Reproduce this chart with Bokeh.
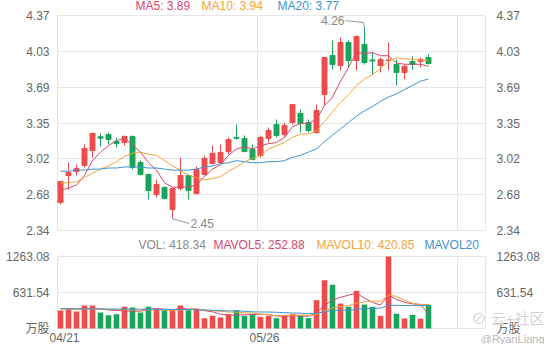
from bokeh.plotting import figure
from bokeh.models import ColumnDataSource, Range1d, Label
from bokeh.embed import file_html
from bokeh.resources import INLINE
from bokeh.core.properties import value

# ---------------- data ----------------
dates = ["04/21", "04/24", "04/25", "04/26", "04/27", "04/28", "05/01", "05/02", "05/03", "05/04",
         "05/05", "05/08", "05/09", "05/10", "05/11", "05/12", "05/15", "05/16", "05/17", "05/18",
         "05/19", "05/22", "05/23", "05/24", "05/25", "05/26", "05/30", "05/31", "06/01", "06/02",
         "06/05", "06/06", "06/07", "06/08", "06/09", "06/12", "06/13", "06/14", "06/15", "06/16",
         "06/19", "06/20", "06/21", "06/22", "06/23", "06/26", "06/27"]

open_ = [2.604, 2.859, 2.897, 2.954, 3.095, 3.225, 3.246, 3.180, 3.171, 3.228,
         2.982, 2.869, 2.680, 2.746, 2.538, 2.737, 2.859, 2.689, 2.869, 2.973,
         2.982, 3.086, 3.218, 3.209, 3.105, 3.048, 3.209, 3.341, 3.246, 3.360,
         3.445, 3.360, 3.265, 3.624, 3.992, 3.898, 4.115, 3.945, 4.096, 3.950,
         3.898, 3.945, 3.907, 3.832, 3.936, 3.936, 3.973]
high = [2.810, 2.982, 2.963, 3.152, 3.265, 3.256, 3.265, 3.218, 3.237, 3.237,
        3.001, 2.878, 2.821, 2.755, 2.746, 3.029, 2.869, 2.944, 3.048, 3.143,
        3.152, 3.218, 3.341, 3.237, 3.152, 3.237, 3.313, 3.388, 3.360, 3.530,
        3.483, 3.388, 3.530, 3.973, 4.134, 4.162, 4.134, 4.181, 4.260, 4.021,
        3.973, 4.115, 3.955, 3.907, 3.983, 3.973, 4.002]
low = [2.585, 2.727, 2.859, 2.935, 3.029, 3.133, 3.152, 3.124, 3.143, 2.916,
       2.859, 2.633, 2.652, 2.633, 2.450, 2.718, 2.633, 2.680, 2.859, 2.963,
       2.963, 3.058, 3.199, 3.077, 3.001, 3.029, 3.171, 3.218, 3.218, 3.341,
       3.265, 3.265, 3.256, 3.520, 3.860, 3.851, 3.879, 3.851, 3.907, 3.813,
       3.832, 3.851, 3.709, 3.766, 3.860, 3.879, 3.907]
close = [2.803, 2.888, 2.925, 3.114, 3.256, 3.212, 3.199, 3.161, 3.228, 2.935,
         2.869, 2.718, 2.774, 2.642, 2.737, 2.859, 2.718, 2.916, 3.020, 3.067,
         3.077, 3.199, 3.209, 3.086, 3.010, 3.218, 3.284, 3.237, 3.331, 3.530,
         3.350, 3.284, 3.473, 3.973, 3.907, 4.115, 3.945, 4.172, 3.926, 3.940,
         3.955, 3.950, 3.832, 3.889, 3.907, 3.955, 3.917]

ma5 = [2.72, 2.74, 2.77, 2.86, 3.00, 3.08, 3.14, 3.19, 3.21, 3.15,
       3.08, 2.98, 2.91, 2.79, 2.75, 2.75, 2.75, 2.77, 2.85, 2.92,
       2.96, 3.05, 3.11, 3.13, 3.11, 3.14, 3.16, 3.17, 3.22, 3.32,
       3.35, 3.35, 3.39, 3.52, 3.60, 3.75, 3.88, 4.02, 4.01, 4.02,
       3.99, 3.99, 3.92, 3.91, 3.91, 3.91, 3.89]
ma10 = [2.79, 2.79, 2.80, 2.84, 2.88, 2.92, 2.95, 2.99, 3.04, 3.07,
        3.08, 3.06, 3.05, 3.00, 2.95, 2.91, 2.86, 2.84, 2.82, 2.83,
        2.85, 2.90, 2.94, 2.99, 3.02, 3.05, 3.11, 3.14, 3.17, 3.22,
        3.25, 3.25, 3.28, 3.37, 3.46, 3.55, 3.62, 3.71, 3.77, 3.81,
        3.87, 3.94, 3.97, 3.96, 3.96, 3.95, 3.94]
ma20 = [2.90, 2.90, 2.91, 2.91, 2.92, 2.92, 2.93, 2.93, 2.94, 2.94,
        2.94, 2.93, 2.93, 2.92, 2.91, 2.91, 2.91, 2.92, 2.94, 2.95,
        2.97, 2.98, 3.00, 2.99, 2.98, 2.98, 2.99, 2.99, 3.00, 3.03,
        3.05, 3.08, 3.11, 3.18, 3.24, 3.30, 3.36, 3.42, 3.47, 3.51,
        3.56, 3.60, 3.63, 3.67, 3.71, 3.75, 3.77]

vol = [316, 339, 298, 403, 403, 281, 234, 251, 380, 368,
       281, 380, 339, 321, 321, 403, 321, 339, 181, 222,
       193, 251, 321, 222, 251, 205, 222, 181, 235, 251,
       222, 181, 497, 847, 766, 438, 380, 660, 420, 380,
       222, 1263.08, 258, 175, 240, 172, 418.34]
mavol5 = [350, 345, 340, 345, 352, 345, 324, 314, 310, 303,
          303, 332, 350, 338, 328, 353, 341, 341, 313, 293,
          251, 237, 234, 242, 248, 250, 244, 216, 219, 219,
          222, 214, 277, 400, 503, 546, 586, 618, 533, 456,
          412, 589, 509, 460, 432, 422, 252.88]
mavol10 = [345, 343, 340, 340, 342, 340, 335, 332, 330, 327,
           324, 328, 332, 324, 316, 328, 337, 345, 325, 311,
           302, 289, 287, 277, 270, 251, 241, 225, 230, 233,
           236, 229, 247, 309, 361, 384, 400, 448, 466, 479,
           479, 587, 563, 496, 444, 417, 420.85]
mavol20 = [348, 347, 346, 345, 344, 343, 342, 341, 340, 339,
           338, 337, 336, 335, 334, 332, 330, 328, 325, 319,
           313, 309, 310, 301, 293, 289, 289, 285, 278, 272,
           269, 259, 267, 293, 316, 317, 320, 336, 348, 356,
           358, 408, 405, 403, 402, 401, 410]

price_ticks = [2.34, 2.68, 3.02, 3.35, 3.69, 4.03, 4.37]
vol_ticks = [0, 631.54, 1263.08]
vol_tick_labels = ["万股", "631.54", "1263.08"]
date_label_index = [0, 25]

# ---------------- style / layout ----------------
UP = "#ee4c4c"
DOWN = "#19a45c"
C5 = "#d4496c"
C10 = "#f2a33a"
C20 = "#3d94cf"
GRID = "#e6e6e6"
TXT = "#666666"
FONT = "Liberation Sans, Noto Sans CJK SC"

W, H = 544, 344          # canvas; page offset 8px
OFF = 8
X0_PX, BAND = 68, 8      # page px of first category, px per category
PLOT_L, PLOT_R = 65, 493
PRICE_T, PRICE_B = 23, 238
VOL_T, VOL_B = 264, 336
GRID_X_PX = [65, 265, 465, 493]
LEFT_LABEL_PX, RIGHT_LABEL_PX = 57, 504


def xd(px):
    return (px - X0_PX) / BAND


kp = (price_ticks[-1] - price_ticks[0]) / (PRICE_B - PRICE_T)
kv = (vol_ticks[-1] - vol_ticks[0]) / (VOL_B - VOL_T)


def yp(px):
    return price_ticks[0] + (PRICE_B - px) * kp


def yv(px):
    return vol_ticks[0] + (VOL_B - px) * kv


n = len(close)
xs = list(range(n))
colors = [UP if c >= o else DOWN for o, c in zip(open_, close)]
src = ColumnDataSource(dict(
    x=xs, high=high, low=low, vol=vol, color=colors,
    top=[max(o, c) for o, c in zip(open_, close)],
    bottom=[min(o, c) if abs(o - c) > 0.004 else min(o, c) - 0.004 for o, c in zip(open_, close)]))

p = figure(width=W, height=H, output_backend="svg", toolbar_location=None, tools="",
           x_range=Range1d(xd(OFF), xd(OFF + W)), y_range=Range1d(yp(OFF + H), yp(OFF)),
           min_border=0, x_axis_location=None, y_axis_location=None, title=None)
p.extra_y_ranges = {"vol": Range1d(yv(OFF + H), yv(OFF))}
p.grid.visible = False
p.outline_line_color = None
p.background_fill_color = "white"
p.border_fill_color = "white"

# grid lines
gx = [xd(v) for v in GRID_X_PX]
p.segment(x0=[xd(PLOT_L)] * len(price_ticks), x1=[xd(PLOT_R)] * len(price_ticks),
          y0=price_ticks, y1=price_ticks, color=GRID, line_width=1)
p.segment(x0=gx, x1=gx, y0=[price_ticks[0]] * len(gx), y1=[price_ticks[-1]] * len(gx),
          color=GRID, line_width=1)
p.segment(x0=[xd(PLOT_L)] * len(vol_ticks), x1=[xd(PLOT_R)] * len(vol_ticks),
          y0=vol_ticks, y1=vol_ticks, color=GRID, line_width=1, y_range_name="vol")
p.segment(x0=gx, x1=gx, y0=[vol_ticks[0]] * len(gx), y1=[vol_ticks[-1]] * len(gx),
          color=GRID, line_width=1, y_range_name="vol")

# axis labels
tick_txt = ["%.2f" % t for t in price_ticks]
p.text(x=[xd(LEFT_LABEL_PX)] * len(price_ticks), y=price_ticks, text=tick_txt, text_align="right",
       text_baseline="middle", text_color=TXT, text_font=value(FONT), text_font_size="12px")
p.text(x=[xd(RIGHT_LABEL_PX)] * len(price_ticks), y=price_ticks, text=tick_txt, text_align="left",
       text_baseline="middle", text_color=TXT, text_font=value(FONT), text_font_size="12px")
p.text(x=[xd(LEFT_LABEL_PX)] * len(vol_ticks), y=vol_ticks, text=vol_tick_labels, text_align="right",
       text_baseline="middle", text_color=TXT, text_font=value(FONT), text_font_size="12px",
       y_range_name="vol")
p.text(x=[xd(RIGHT_LABEL_PX)] * len(vol_ticks), y=vol_ticks, text=vol_tick_labels, text_align="left",
       text_baseline="middle", text_color=TXT, text_font=value(FONT), text_font_size="12px",
       y_range_name="vol")
p.text(x=[i + 0.5 for i in date_label_index], y=[yv(345)] * len(date_label_index),
       text=[dates[i] for i in date_label_index], text_align="center", text_baseline="middle",
       text_color=TXT, text_font=value(FONT), text_font_size="12px", y_range_name="vol")

# candles
p.segment(x0="x", y0="low", x1="x", y1="high", color="color", line_width=1, source=src)
p.vbar(x="x", width=0.62, top="top", bottom="bottom", fill_color="color",
       line_color="color", line_width=1, source=src)
p.line(xs, ma5, color=C5, line_width=1)
p.line(xs, ma10, color=C10, line_width=1)
p.line(xs, ma20, color=C20, line_width=1)

# volume
p.vbar(x="x", width=0.7, top="vol", bottom=0, fill_color="color", line_color=None,
       source=src, y_range_name="vol")
p.line(xs, mavol5, color=C5, line_width=1, y_range_name="vol")
p.line(xs, mavol10, color=C10, line_width=1, y_range_name="vol")
p.line(xs, mavol20, color=C20, line_width=1, y_range_name="vol")

# max / min markers
imax = max(range(n), key=lambda i: high[i])
imin = min(range(n), key=lambda i: low[i])
p.line([imax, imax - 0.15, imax - 2.4], [high[imax], high[imax] + 0.044, high[imax] + 0.062],
       color="#999999", line_width=1)
p.add_layout(Label(x=imax - 2.5, y=high[imax] + 0.062, text="%.2f" % high[imax],
                   text_align="right", text_baseline="middle", text_color="#888888",
                   text_font=FONT, text_font_size="12px"))
p.line([imin, imin + 2.1], [low[imin], low[imin] - 0.044], color="#999999", line_width=1)
p.add_layout(Label(x=imin + 2.25, y=low[imin] - 0.044, text="%.2f" % low[imin],
                   text_align="left", text_baseline="middle", text_color="#888888",
                   text_font=FONT, text_font_size="12px"))


def screen_label(txt, px, py, col, size="12px", align="left"):
    p.add_layout(Label(x=px - OFF, y=OFF + H - py, x_units="screen", y_units="screen",
                       text=txt, text_color=col, text_font=FONT, text_font_size=size,
                       text_baseline="middle", text_align=align))


# legends
screen_label("MA5: %.2f" % ma5[-1], 143, 13, C5)
screen_label("MA10: %.2f" % ma10[-1], 209, 13, C10)
screen_label("MA20: %.2f" % ma20[-1], 285, 13, C20)
screen_label("VOL: %.2f" % vol[-1], 146, 252, "#888888")
screen_label("MAVOL5: %.2f" % mavol5[-1], 221, 252, C5)
screen_label("MAVOL10: %.2f" % mavol10[-1], 324, 252, C10)
screen_label("MAVOL20", 432, 252, C20)

# watermark
screen_label("⊘ 云+社区", 479, 326, "#d4d4d4", size="15px")
screen_label("@RyanLiang", 552, 346, "#b8b8b8", size="11px", align="right")

open("out.html", "w").write(file_html(p, INLINE))
